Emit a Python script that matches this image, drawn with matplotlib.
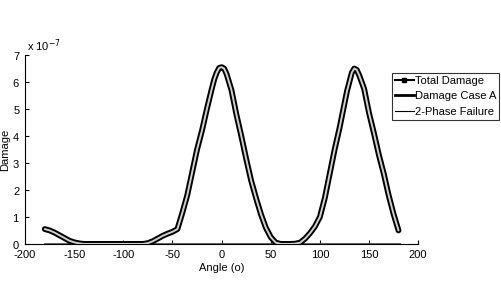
import matplotlib
matplotlib.use("Agg")
import matplotlib.pyplot as plt
import numpy as np
from matplotlib.ticker import ScalarFormatter
from matplotlib.lines import Line2D

plt.rcParams['font.family'] = ['Liberation Sans', 'DejaVu Sans']
plt.rcParams['axes.unicode_minus'] = False

angles = [
    -180, -175, -170, -165, -160, -155, -150, -145, -140, -135, -130,
    -125, -120, -115, -110, -105, -100, -95, -90, -85, -80,
    -75, -70, -65, -60, -55, -50, -45,
    -40, -35, -30, -25, -20, -15, -10, -7.5, -5, -2.5, 0,
    2.5, 5, 7.5, 10, 15, 20, 25, 30, 35, 40, 45, 50, 55,
    60, 65, 70, 75, 80, 85, 90, 95,
    100, 105, 110, 115, 120, 125, 127.5, 130, 132.5, 135,
    137.5, 140, 142.5, 145, 150, 155, 160, 165, 170, 175, 180,
]
damage_e7 = [
    0.55, 0.5, 0.42, 0.32, 0.22, 0.12, 0.06, 0.02, 0.0, 0.0, 0.0,
    0.0, 0.0, 0.0, 0.0, 0.0, 0.0, 0.0, 0.0, 0.0, 0.0,
    0.03, 0.1, 0.2, 0.3, 0.38, 0.45, 0.55,
    1.15, 1.8, 2.65, 3.5, 4.2, 5.0, 5.75, 6.1, 6.35, 6.52, 6.55,
    6.5, 6.3, 6.0, 5.7, 4.8, 4.0, 3.15, 2.35, 1.7, 1.1, 0.6, 0.25, 0.05,
    0.0, 0.0, 0.0, 0.01, 0.05, 0.2, 0.4, 0.65,
    1.0, 1.7, 2.6, 3.5, 4.3, 5.2, 5.65, 6.0, 6.35, 6.5,
    6.45, 6.25, 6.0, 5.75, 4.85, 4.1, 3.3, 2.6, 1.8, 1.1, 0.5,
]
two_phase = [0.0] * len(angles)

x = np.array(angles)
y = np.array(damage_e7) * 1e-7

fig = plt.figure(figsize=(5.02, 2.82), dpi=100)
ax = fig.add_axes([0.05, 0.135, 0.783, 0.67])

ax.plot(x, np.array(two_phase), color='#555555', lw=2.0, zorder=2)
ax.plot(x, y, color='black', lw=4.2, solid_capstyle='round', solid_joinstyle='round', zorder=3)
ax.plot(x, y, color='#d0d0d0', lw=1.4, solid_capstyle='round', solid_joinstyle='round', zorder=4)

ax.set_xlim(-200, 200)
ax.set_ylim(0, 7e-7)
ax.set_xticks(np.arange(-200, 201, 50))
ax.set_yticks(np.arange(0, 8) * 1e-7)
fmt = ScalarFormatter(useMathText=True)
fmt.set_powerlimits((-3, 3))
ax.yaxis.set_major_formatter(fmt)
ax.yaxis.get_offset_text().set_visible(False)
ax.text(0.005, 1.005, 'x 10$^{-7}$', transform=ax.transAxes, fontsize=8,
        ha='left', va='bottom')

for s in ['top', 'right']:
    ax.spines[s].set_visible(False)
ax.tick_params(direction='in', length=3, labelsize=8, width=0.8)
ax.tick_params(axis='x', pad=4.5)
ax.set_xlabel('Angle (o)', fontsize=8, labelpad=2)
ax.set_ylabel('Damage', fontsize=8, labelpad=2)

handles = [
    Line2D([], [], color='black', lw=1.5, marker='s', markersize=3.5),
    Line2D([], [], color='black', lw=2.0),
    Line2D([], [], color='black', lw=0.8),
]
labels = ['Total Damage', 'Damage Case A', '2-Phase Failure']
leg = fig.legend(handles, labels, loc='upper left', bbox_to_anchor=(0.781, 0.741),
                 fontsize=8, frameon=True, fancybox=False, edgecolor='black',
                 handlelength=1.7, handletextpad=0.1, borderpad=0.25,
                 labelspacing=0.5, borderaxespad=0)
leg.get_frame().set_linewidth(0.8)

fig.savefig('out.png', dpi=100)
